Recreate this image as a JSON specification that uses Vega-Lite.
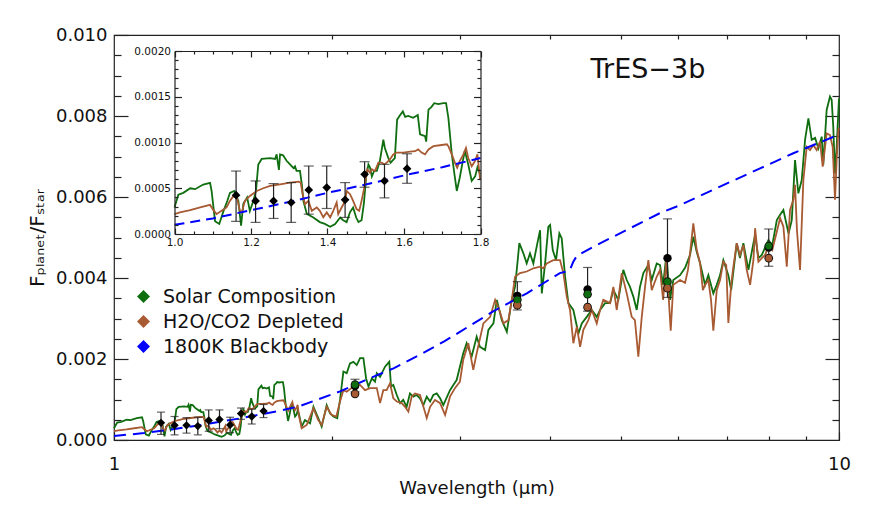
{
  "$schema": "https://vega.github.io/schema/vega-lite/v6.json",
  "width": 725,
  "height": 405,
  "autosize": "none",
  "padding": {"left": 114, "top": 35, "right": 33, "bottom": 73},
  "background": "white",
  "config": {
    "view": {"stroke": "#222", "strokeWidth": 1.2},
    "font": "DejaVu Sans",
    "axis": {"grid": false, "domain": false, "tickColor": "#222", "tickWidth": 1.2, "labelColor": "#111", "labelFont": "DejaVu Sans", "titleFont": "DejaVu Sans", "titleFontWeight": "normal", "titleColor": "#111", "labelFlush": false, "labelOverlap": false, "domainColor": "#222", "domainWidth": 1.2}
  },
  "datasets": {
    "solar": [
      {"wl":1.0,"f":0.00029},{"wl":1.01,"f":0.00043},{"wl":1.023,"f":0.00045},{"wl":1.041,"f":0.0005},{"wl":1.054,"f":0.00049},{"wl":1.075,"f":0.00054},{"wl":1.093,"f":0.00056},{"wl":1.097,"f":0.00047},{"wl":1.1,"f":0.00036},{"wl":1.106,"f":0.00014},{"wl":1.117,"f":0.00011},{"wl":1.128,"f":0.00025},{"wl":1.138,"f":0.00036},{"wl":1.145,"f":0.00045},{"wl":1.156,"f":0.00047},{"wl":1.163,"f":0.0004},{"wl":1.167,"f":0.00036},{"wl":1.174,"f":0.00009},{"wl":1.18,"f":0.00033},{"wl":1.19,"f":0.0004},{"wl":1.197,"f":0.00025},{"wl":1.206,"f":0.00036},{"wl":1.213,"f":0.00047},{"wl":1.219,"f":0.00076},{"wl":1.228,"f":0.00082},{"wl":1.25,"f":0.00083},{"wl":1.263,"f":0.00082},{"wl":1.267,"f":0.00087},{"wl":1.273,"f":0.0007},{"wl":1.276,"f":0.00087},{"wl":1.284,"f":0.00086},{"wl":1.293,"f":0.0008},{"wl":1.302,"f":0.00076},{"wl":1.311,"f":0.00072},{"wl":1.315,"f":0.00074},{"wl":1.319,"f":0.00069},{"wl":1.328,"f":0.00069},{"wl":1.333,"f":0.00054},{"wl":1.337,"f":0.00036},{"wl":1.346,"f":0.00022},{"wl":1.363,"f":0.00018},{"wl":1.38,"f":0.00013},{"wl":1.393,"f":0.00011},{"wl":1.407,"f":0.00008},{"wl":1.42,"f":0.00011},{"wl":1.433,"f":0.00018},{"wl":1.441,"f":0.00015},{"wl":1.45,"f":0.00013},{"wl":1.459,"f":0.00024},{"wl":1.467,"f":0.00029},{"wl":1.475,"f":0.00018},{"wl":1.481,"f":0.00013},{"wl":1.489,"f":0.00015},{"wl":1.495,"f":0.00033},{"wl":1.501,"f":0.00062},{"wl":1.507,"f":0.00076},{"wl":1.511,"f":0.00073},{"wl":1.516,"f":0.00063},{"wl":1.522,"f":0.00069},{"wl":1.529,"f":0.00069},{"wl":1.537,"f":0.0008},{"wl":1.546,"f":0.00103},{"wl":1.55,"f":0.00094},{"wl":1.559,"f":0.00083},{"wl":1.565,"f":0.00078},{"wl":1.576,"f":0.00083},{"wl":1.582,"f":0.00125},{"wl":1.59,"f":0.0013},{"wl":1.597,"f":0.00134},{"wl":1.603,"f":0.00128},{"wl":1.611,"f":0.00129},{"wl":1.624,"f":0.00127},{"wl":1.636,"f":0.0013},{"wl":1.642,"f":0.00109},{"wl":1.655,"f":0.00107},{"wl":1.658,"f":0.00101},{"wl":1.664,"f":0.00136},{"wl":1.672,"f":0.00139},{"wl":1.679,"f":0.00143},{"wl":1.69,"f":0.00142},{"wl":1.703,"f":0.00143},{"wl":1.71,"f":0.00143},{"wl":1.716,"f":0.00127},{"wl":1.725,"f":0.00087},{"wl":1.733,"f":0.00062},{"wl":1.738,"f":0.00047},{"wl":1.746,"f":0.00062},{"wl":1.753,"f":0.00078},{"wl":1.759,"f":0.00091},{"wl":1.768,"f":0.00076},{"wl":1.777,"f":0.00058},{"wl":1.786,"f":0.00063},{"wl":1.792,"f":0.00073},{"wl":1.799,"f":0.00065},
      {"wl":1.815,"f":0.00033},{"wl":1.834,"f":0.00049},{"wl":1.864,"f":0.00041},{"wl":1.884,"f":0.00082},{"wl":1.913,"f":0.00054},{"wl":1.934,"f":0.00033},{"wl":1.965,"f":0.00086},{"wl":1.986,"f":0.00066},{"wl":2.007,"f":0.00058},{"wl":2.032,"f":0.00054},{"wl":2.05,"f":0.00099},{"wl":2.072,"f":0.00169},{"wl":2.094,"f":0.00165},{"wl":2.116,"f":0.00189},{"wl":2.139,"f":0.00193},{"wl":2.162,"f":0.00185},{"wl":2.185,"f":0.00202},{"wl":2.208,"f":0.00202},{"wl":2.227,"f":0.00152},{"wl":2.244,"f":0.00132},{"wl":2.268,"f":0.00152},{"wl":2.291,"f":0.00144},{"wl":2.304,"f":0.00165},{"wl":2.328,"f":0.00156},{"wl":2.365,"f":0.00181},{"wl":2.397,"f":0.00193},{"wl":2.411,"f":0.00132},{"wl":2.428,"f":0.00136},{"wl":2.455,"f":0.00111},{"wl":2.481,"f":0.00091},{"wl":2.506,"f":0.00099},{"wl":2.533,"f":0.00082},{"wl":2.56,"f":0.00115},{"wl":2.587,"f":0.00107},{"wl":2.615,"f":0.00111},{"wl":2.643,"f":0.00103},{"wl":2.671,"f":0.00086},{"wl":2.7,"f":0.00107},{"wl":2.729,"f":0.00095},{"wl":2.757,"f":0.00111},{"wl":2.787,"f":0.00115},{"wl":2.817,"f":0.00103},{"wl":2.846,"f":0.00086},{"wl":2.907,"f":0.00123},{"wl":2.938,"f":0.00136},{"wl":2.969,"f":0.00148},{"wl":3.0,"f":0.00181},{"wl":3.032,"f":0.00214},{"wl":3.065,"f":0.00239},{"wl":3.114,"f":0.00206},{"wl":3.164,"f":0.00255},{"wl":3.197,"f":0.0023},{"wl":3.25,"f":0.00222},{"wl":3.284,"f":0.00272},{"wl":3.337,"f":0.00288},{"wl":3.373,"f":0.00346},{"wl":3.427,"f":0.00296},{"wl":3.482,"f":0.00267},{"wl":3.537,"f":0.00346},{"wl":3.574,"f":0.00378},{"wl":3.601,"f":0.00436},{"wl":3.623,"f":0.00486},{"wl":3.67,"f":0.00461},{"wl":3.709,"f":0.00436},{"wl":3.748,"f":0.00461},{"wl":3.788,"f":0.00436},{"wl":3.837,"f":0.00486},{"wl":3.87,"f":0.00518},{"wl":3.891,"f":0.00362},{"wl":3.932,"f":0.00436},{"wl":3.973,"f":0.00527},{"wl":3.995,"f":0.00531},{"wl":4.029,"f":0.00469},{"wl":4.071,"f":0.00444},{"wl":4.114,"f":0.0051},{"wl":4.145,"f":0.00498},{"wl":4.19,"f":0.00403},{"wl":4.234,"f":0.00338},{"wl":4.301,"f":0.00321},{"wl":4.371,"f":0.00263},{"wl":4.418,"f":0.00288},{"wl":4.488,"f":0.00304},{"wl":4.56,"f":0.00321},{"wl":4.633,"f":0.00304},{"wl":4.682,"f":0.00321},{"wl":4.757,"f":0.00338},{"wl":4.833,"f":0.00338},{"wl":4.884,"f":0.0037},{"wl":4.962,"f":0.00346},{"wl":5.041,"f":0.0042},{"wl":5.096,"f":0.00395},{"wl":5.149,"f":0.00378},{"wl":5.204,"f":0.00354},{"wl":5.26,"f":0.00321},{"wl":5.315,"f":0.00378},{"wl":5.372,"f":0.00412},{"wl":5.458,"f":0.00432},{"wl":5.517,"f":0.00395},{"wl":5.605,"f":0.00436},
      {"wl":5.664,"f":0.00432},{"wl":5.72,"f":0.00383},{"wl":5.78,"f":0.00457},{"wl":5.847,"f":0.00346},{"wl":5.908,"f":0.00395},{"wl":6.036,"f":0.00407},{"wl":6.133,"f":0.00425},{"wl":6.231,"f":0.00457},{"wl":6.296,"f":0.00502},{"wl":6.365,"f":0.00464},{"wl":6.432,"f":0.00437},{"wl":6.535,"f":0.00383},{"wl":6.604,"f":0.00407},{"wl":6.709,"f":0.00362},{"wl":6.782,"f":0.00383},{"wl":6.854,"f":0.00407},{"wl":6.926,"f":0.00444},{"wl":7.037,"f":0.00407},{"wl":7.1,"f":0.0037},{"wl":7.227,"f":0.00486},{"wl":7.3,"f":0.00449},{"wl":7.381,"f":0.00486},{"wl":7.5,"f":0.0042},{"wl":7.62,"f":0.00486},{"wl":7.661,"f":0.00506},{"wl":7.742,"f":0.00449},{"wl":7.826,"f":0.00457},{"wl":7.992,"f":0.00494},{"wl":8.09,"f":0.00481},{"wl":8.208,"f":0.00543},{"wl":8.294,"f":0.00556},{"wl":8.381,"f":0.00568},{"wl":8.52,"f":0.0051},{"wl":8.607,"f":0.00543},{"wl":8.697,"f":0.00691},{"wl":8.789,"f":0.00609},{"wl":8.884,"f":0.00642},{"wl":8.978,"f":0.00741},{"wl":9.074,"f":0.00794},{"wl":9.169,"f":0.00741},{"wl":9.27,"f":0.00746},{"wl":9.365,"f":0.0072},{"wl":9.466,"f":0.00749},{"wl":9.513,"f":0.00679},{"wl":9.616,"f":0.00815},{"wl":9.718,"f":0.00848},{"wl":9.77,"f":0.0084},{"wl":9.819,"f":0.00774},{"wl":9.874,"f":0.00658},{"wl":9.926,"f":0.00724},{"wl":9.977,"f":0.00807},{"wl":10.0,"f":0.00844}
    ],
    "depleted": [
      {"wl":1.0,"f":0.000217},{"wl":1.014,"f":0.000236},{"wl":1.041,"f":0.00026},{"wl":1.067,"f":0.00029},{"wl":1.093,"f":0.000318},{"wl":1.1,"f":0.000272},{"wl":1.11,"f":0.000217},{"wl":1.123,"f":0.000253},{"wl":1.136,"f":0.00029},{"wl":1.145,"f":0.000362},{"wl":1.154,"f":0.000416},{"wl":1.163,"f":0.0004},{"wl":1.171,"f":0.000253},{"wl":1.176,"f":0.000236},{"wl":1.184,"f":0.000362},{"wl":1.197,"f":0.000416},{"wl":1.215,"f":0.00047},{"wl":1.232,"f":0.0005},{"wl":1.25,"f":0.000525},{"wl":1.276,"f":0.000543},{"wl":1.302,"f":0.000562},{"wl":1.324,"f":0.000573},{"wl":1.33,"f":0.000562},{"wl":1.335,"f":0.000435},{"wl":1.341,"f":0.000326},{"wl":1.35,"f":0.000362},{"wl":1.359,"f":0.000253},{"wl":1.372,"f":0.00029},{"wl":1.38,"f":0.000253},{"wl":1.389,"f":0.000182},{"wl":1.398,"f":0.000236},{"wl":1.407,"f":0.000182},{"wl":1.415,"f":0.000253},{"wl":1.424,"f":0.000345},{"wl":1.428,"f":0.000217},{"wl":1.437,"f":0.00029},{"wl":1.446,"f":0.000362},{"wl":1.45,"f":0.00047},{"wl":1.459,"f":0.000435},{"wl":1.467,"f":0.000362},{"wl":1.476,"f":0.000272},{"wl":1.483,"f":0.000253},{"wl":1.489,"f":0.000362},{"wl":1.498,"f":0.000543},{"wl":1.504,"f":0.000707},{"wl":1.511,"f":0.00067},{"wl":1.516,"f":0.000707},{"wl":1.524,"f":0.000688},{"wl":1.533,"f":0.00078},{"wl":1.542,"f":0.00078},{"wl":1.548,"f":0.00076},{"wl":1.555,"f":0.00078},{"wl":1.563,"f":0.000815},{"wl":1.572,"f":0.00087},{"wl":1.581,"f":0.00089},{"wl":1.598,"f":0.00089},{"wl":1.616,"f":0.0009},{"wl":1.629,"f":0.000905},{"wl":1.637,"f":0.000924},{"wl":1.646,"f":0.00089},{"wl":1.655,"f":0.00087},{"wl":1.664,"f":0.000924},{"wl":1.677,"f":0.00096},{"wl":1.694,"f":0.00097},{"wl":1.712,"f":0.00098},{"wl":1.716,"f":0.00096},{"wl":1.725,"f":0.00087},{"wl":1.733,"f":0.00078},{"wl":1.739,"f":0.000725},{"wl":1.746,"f":0.0008},{"wl":1.753,"f":0.00085},{"wl":1.762,"f":0.00094},{"wl":1.768,"f":0.00083},{"wl":1.777,"f":0.00074},{"wl":1.786,"f":0.0008},{"wl":1.792,"f":0.00087},{"wl":1.799,"f":0.0006},
      {"wl":1.815,"f":0.00029},{"wl":1.844,"f":0.00037},{"wl":1.884,"f":0.00078},{"wl":1.913,"f":0.00049},{"wl":1.934,"f":0.00037},{"wl":1.965,"f":0.00082},{"wl":1.996,"f":0.00062},{"wl":2.026,"f":0.00058},{"wl":2.05,"f":0.00095},{"wl":2.072,"f":0.00123},{"wl":2.094,"f":0.00119},{"wl":2.139,"f":0.00132},{"wl":2.185,"f":0.00136},{"wl":2.219,"f":0.00123},{"wl":2.256,"f":0.00128},{"wl":2.304,"f":0.00128},{"wl":2.328,"f":0.00091},{"wl":2.352,"f":0.00123},{"wl":2.377,"f":0.00123},{"wl":2.403,"f":0.0014},{"wl":2.428,"f":0.00103},{"wl":2.455,"f":0.00095},{"wl":2.494,"f":0.00091},{"wl":2.52,"f":0.00082},{"wl":2.547,"f":0.0007},{"wl":2.574,"f":0.00107},{"wl":2.601,"f":0.00115},{"wl":2.643,"f":0.00111},{"wl":2.7,"f":0.00054},{"wl":2.729,"f":0.00082},{"wl":2.772,"f":0.00099},{"wl":2.817,"f":0.00091},{"wl":2.862,"f":0.00062},{"wl":2.907,"f":0.00107},{"wl":2.953,"f":0.00128},{"wl":3.0,"f":0.00144},{"wl":3.032,"f":0.00198},{"wl":3.081,"f":0.00239},{"wl":3.13,"f":0.00173},{"wl":3.164,"f":0.00214},{"wl":3.232,"f":0.00288},{"wl":3.302,"f":0.00304},{"wl":3.355,"f":0.00346},{"wl":3.4,"f":0.00321},{"wl":3.444,"f":0.00288},{"wl":3.5,"f":0.00296},{"wl":3.537,"f":0.00346},{"wl":3.574,"f":0.00403},{"wl":3.631,"f":0.00412},{"wl":3.709,"f":0.00416},{"wl":3.788,"f":0.00424},{"wl":3.87,"f":0.00428},{"wl":3.911,"f":0.00424},{"wl":3.953,"f":0.00436},{"wl":4.036,"f":0.00444},{"wl":4.123,"f":0.00444},{"wl":4.167,"f":0.00412},{"wl":4.212,"f":0.00354},{"wl":4.256,"f":0.00321},{"wl":4.301,"f":0.00239},{"wl":4.349,"f":0.0028},{"wl":4.395,"f":0.0023},{"wl":4.44,"f":0.00272},{"wl":4.511,"f":0.00296},{"wl":4.56,"f":0.00321},{"wl":4.633,"f":0.00288},{"wl":4.682,"f":0.00321},{"wl":4.731,"f":0.00346},{"wl":4.833,"f":0.00338},{"wl":4.884,"f":0.00378},{"wl":4.937,"f":0.00321},{"wl":5.016,"f":0.00412},{"wl":5.096,"f":0.00362},{"wl":5.177,"f":0.00304},{"wl":5.23,"f":0.00296},{"wl":5.287,"f":0.00206},{"wl":5.345,"f":0.00304},{"wl":5.401,"f":0.00378},{"wl":5.458,"f":0.00444},{"wl":5.517,"f":0.0037},{"wl":5.605,"f":0.00403},
      {"wl":5.664,"f":0.0042},{"wl":5.72,"f":0.00346},{"wl":5.78,"f":0.00444},{"wl":5.86,"f":0.0027},{"wl":5.908,"f":0.00383},{"wl":6.036,"f":0.00395},{"wl":6.133,"f":0.00388},{"wl":6.19,"f":0.0042},{"wl":6.231,"f":0.00462},{"wl":6.296,"f":0.00535},{"wl":6.365,"f":0.00469},{"wl":6.432,"f":0.00437},{"wl":6.49,"f":0.0037},{"wl":6.535,"f":0.00383},{"wl":6.604,"f":0.00395},{"wl":6.66,"f":0.00346},{"wl":6.709,"f":0.0027},{"wl":6.782,"f":0.0037},{"wl":6.854,"f":0.00395},{"wl":6.926,"f":0.0044},{"wl":6.99,"f":0.00432},{"wl":7.037,"f":0.00289},{"wl":7.1,"f":0.00383},{"wl":7.14,"f":0.0042},{"wl":7.227,"f":0.00486},{"wl":7.3,"f":0.00457},{"wl":7.381,"f":0.00481},{"wl":7.46,"f":0.0042},{"wl":7.54,"f":0.00383},{"wl":7.62,"f":0.00444},{"wl":7.661,"f":0.00523},{"wl":7.742,"f":0.0044},{"wl":7.826,"f":0.00449},{"wl":7.91,"f":0.00457},{"wl":7.992,"f":0.00481},{"wl":8.09,"f":0.00469},{"wl":8.208,"f":0.00514},{"wl":8.294,"f":0.00548},{"wl":8.381,"f":0.00527},{"wl":8.472,"f":0.00428},{"wl":8.56,"f":0.00568},{"wl":8.65,"f":0.00593},{"wl":8.697,"f":0.0063},{"wl":8.75,"f":0.00518},{"wl":8.836,"f":0.0042},{"wl":8.93,"f":0.00642},{"wl":9.026,"f":0.00724},{"wl":9.12,"f":0.00716},{"wl":9.218,"f":0.00728},{"wl":9.316,"f":0.00716},{"wl":9.414,"f":0.00737},{"wl":9.496,"f":0.00675},{"wl":9.616,"f":0.00757},{"wl":9.718,"f":0.00753},{"wl":9.801,"f":0.00724},{"wl":9.874,"f":0.00593},{"wl":9.926,"f":0.00691},{"wl":9.977,"f":0.00765},{"wl":10.0,"f":0.0077}
    ],
    "bb": [
      {"wl":1.0,"f":0.0001},{"wl":1.1,"f":0.00017},{"wl":1.2,"f":0.00026},{"wl":1.3,"f":0.00035},{"wl":1.4,"f":0.00045},{"wl":1.5,"f":0.00054},{"wl":1.6,"f":0.00064},{"wl":1.7,"f":0.00073},{"wl":1.8,"f":0.00083},{"wl":2.05,"f":0.0012},{"wl":2.25,"f":0.00152},{"wl":2.43,"f":0.00177},{"wl":2.64,"f":0.0021},{"wl":2.85,"f":0.00243},{"wl":3.0,"f":0.00267},{"wl":3.33,"f":0.00317},{"wl":3.71,"f":0.00362},{"wl":4.12,"f":0.00412},{"wl":4.25,"f":0.00418},{"wl":4.3,"f":0.0044},{"wl":4.35,"f":0.00455},{"wl":4.58,"f":0.00477},{"wl":5.1,"f":0.00519},{"wl":5.66,"f":0.0056},{"wl":6.04,"f":0.0058},{"wl":6.84,"f":0.00625},{"wl":7.77,"f":0.0067},{"wl":8.65,"f":0.00708},{"wl":9.84,"f":0.00749},{"wl":10.0,"f":0.00755}
    ],
    "obs": [
      {"wl":1.161,"f":0.000424,"lo":0.000138,"hi":0.000688},{"wl":1.212,"f":0.000362,"lo":0.000127,"hi":0.00058},{"wl":1.259,"f":0.000362,"lo":0.00017,"hi":0.000551},{"wl":1.305,"f":0.000344,"lo":0.000127,"hi":0.000562},{"wl":1.351,"f":0.000482,"lo":0.000217,"hi":0.000743},{"wl":1.398,"f":0.000507,"lo":0.000279,"hi":0.000743},{"wl":1.446,"f":0.000373,"lo":0.000181,"hi":0.000562},{"wl":1.497,"f":0.000652,"lo":0.000511,"hi":0.00079},{"wl":1.549,"f":0.00058,"lo":0.000395,"hi":0.000761},{"wl":1.608,"f":0.000714,"lo":0.000554,"hi":0.000877}
    ],
    "spitzer": [
      {"wl":2.15,"f":0.00133,"lo":0.00119,"hi":0.0015},{"wl":3.6,"f":0.00356,"lo":0.00321,"hi":0.00391},{"wl":4.5,"f":0.00372,"lo":0.00318,"hi":0.00426},{"wl":5.8,"f":0.00449,"lo":0.00352,"hi":0.00546},{"wl":8.0,"f":0.00475,"lo":0.00429,"hi":0.00521}
    ],
    "bands": [
      {"wl":2.15,"model":"H2O/CO2 Depleted","f":0.00114},{"wl":2.15,"model":"Solar Composition","f":0.00137},{"wl":3.6,"model":"H2O/CO2 Depleted","f":0.00333},{"wl":3.6,"model":"Solar Composition","f":0.00346},{"wl":4.5,"model":"H2O/CO2 Depleted","f":0.00328},{"wl":4.5,"model":"Solar Composition","f":0.0036},{"wl":5.8,"model":"H2O/CO2 Depleted","f":0.00375},{"wl":5.8,"model":"Solar Composition","f":0.00391},{"wl":8.0,"model":"H2O/CO2 Depleted","f":0.00449},{"wl":8.0,"model":"Solar Composition","f":0.00479}
    ]
  },
  "resolve": {"scale": {"x": "independent", "y": "independent"}},
  "layer": [
    {
      "layer": [
        {"data": {"name": "solar"}, "mark": {"type": "line", "color": "#0f6e0f", "strokeWidth": 1.8},
         "encoding": {
           "x": {"field": "wl", "type": "quantitative", "scale": {"type": "log", "domain": [1, 10], "nice": false},
                 "axis": {"orient": "bottom", "values": [1, 10], "format": "d", "tickSize": -8, "labelPadding": 23, "labelFontSize": 18, "title": "Wavelength (μm)", "titleFontSize": 18, "titlePadding": 6}},
           "y": {"field": "f", "type": "quantitative", "scale": {"domain": [0, 0.01], "nice": false, "zero": false},
                 "axis": {"orient": "left", "values": [0, 0.002, 0.004, 0.006, 0.008, 0.01], "format": ".3f", "tickSize": -14, "labelPadding": 21, "labelFontSize": 18, "title": "Fₚₗₐₙₑₜ/Fₛₜₐᵣ", "titleFontSize": 20, "titlePadding": 8}}}},
        {"data": {"name": "depleted"}, "mark": {"type": "line", "color": "#a85a32", "strokeWidth": 1.8},
         "encoding": {
           "x": {"field": "wl", "type": "quantitative", "scale": {"type": "log", "domain": [1, 10], "nice": false},
                 "axis": {"orient": "bottom", "values": [1, 10], "format": "d", "tickSize": -8, "labelPadding": 23, "labelFontSize": 18, "title": "Wavelength (μm)", "titleFontSize": 18, "titlePadding": 6}},
           "y": {"field": "f", "type": "quantitative", "scale": {"domain": [0, 0.01], "nice": false, "zero": false},
                 "axis": {"orient": "left", "values": [0, 0.002, 0.004, 0.006, 0.008, 0.01], "format": ".3f", "tickSize": -14, "labelPadding": 21, "labelFontSize": 18, "title": "Fₚₗₐₙₑₜ/Fₛₜₐᵣ", "titleFontSize": 20, "titlePadding": 8}}}},
        {"data": {"name": "bb"}, "mark": {"type": "line", "color": "#0000ff", "strokeWidth": 2, "strokeDash": [12, 7]},
         "encoding": {
           "x": {"field": "wl", "type": "quantitative", "scale": {"type": "log", "domain": [1, 10], "nice": false},
                 "axis": {"orient": "bottom", "values": [1, 10], "format": "d", "tickSize": -8, "labelPadding": 23, "labelFontSize": 18, "title": "Wavelength (μm)", "titleFontSize": 18, "titlePadding": 6}},
           "y": {"field": "f", "type": "quantitative", "scale": {"domain": [0, 0.01], "nice": false, "zero": false},
                 "axis": {"orient": "left", "values": [0, 0.002, 0.004, 0.006, 0.008, 0.01], "format": ".3f", "tickSize": -14, "labelPadding": 21, "labelFontSize": 18, "title": "Fₚₗₐₙₑₜ/Fₛₜₐᵣ", "titleFontSize": 20, "titlePadding": 8}}}}
      ]
    },
    {
      "layer": [
        {"data": {"name": "obs"}, "mark": {"type": "rule", "color": "#222", "strokeWidth": 1.2},
         "encoding": {
           "x": {"field": "wl", "type": "quantitative", "scale": {"type": "log", "domain": [1, 10], "nice": false},
                 "axis": {"orient": "bottom", "values": [2, 3, 4, 5, 6, 7, 8, 9], "tickSize": -4, "labels": false, "title": null}},
           "y": {"field": "lo", "type": "quantitative", "scale": {"domain": [0, 0.01], "nice": false, "zero": false},
                 "axis": {"orient": "left", "values": [0.0005, 0.001, 0.0015, 0.0025, 0.003, 0.0035, 0.0045, 0.005, 0.0055, 0.0065, 0.007, 0.0075, 0.0085, 0.009, 0.0095], "tickSize": -7, "labels": false, "title": null}},
           "y2": {"field": "hi"}}},
        {"data": {"name": "obs"}, "mark": {"type": "tick", "orient": "horizontal", "color": "#222", "size": 8, "thickness": 1.2},
         "encoding": {
           "x": {"field": "wl", "type": "quantitative", "scale": {"type": "log", "domain": [1, 10], "nice": false},
                 "axis": {"orient": "bottom", "values": [2, 3, 4, 5, 6, 7, 8, 9], "tickSize": -4, "labels": false, "title": null}},
           "y": {"field": "lo", "type": "quantitative", "scale": {"domain": [0, 0.01], "nice": false, "zero": false},
                 "axis": {"orient": "left", "values": [0.0005, 0.001, 0.0015, 0.0025, 0.003, 0.0035, 0.0045, 0.005, 0.0055, 0.0065, 0.007, 0.0075, 0.0085, 0.009, 0.0095], "tickSize": -7, "labels": false, "title": null}}}},
        {"data": {"name": "obs"}, "mark": {"type": "tick", "orient": "horizontal", "color": "#222", "size": 8, "thickness": 1.2},
         "encoding": {
           "x": {"field": "wl", "type": "quantitative", "scale": {"type": "log", "domain": [1, 10], "nice": false},
                 "axis": {"orient": "bottom", "values": [2, 3, 4, 5, 6, 7, 8, 9], "tickSize": -4, "labels": false, "title": null}},
           "y": {"field": "hi", "type": "quantitative", "scale": {"domain": [0, 0.01], "nice": false, "zero": false},
                 "axis": {"orient": "left", "values": [0.0005, 0.001, 0.0015, 0.0025, 0.003, 0.0035, 0.0045, 0.005, 0.0055, 0.0065, 0.007, 0.0075, 0.0085, 0.009, 0.0095], "tickSize": -7, "labels": false, "title": null}}}},
        {"data": {"name": "obs"}, "mark": {"type": "point", "shape": "diamond", "filled": true, "color": "#000", "size": 70, "opacity": 1},
         "encoding": {
           "x": {"field": "wl", "type": "quantitative", "scale": {"type": "log", "domain": [1, 10], "nice": false},
                 "axis": {"orient": "bottom", "values": [2, 3, 4, 5, 6, 7, 8, 9], "tickSize": -4, "labels": false, "title": null}},
           "y": {"field": "f", "type": "quantitative", "scale": {"domain": [0, 0.01], "nice": false, "zero": false},
                 "axis": {"orient": "left", "values": [0.0005, 0.001, 0.0015, 0.0025, 0.003, 0.0035, 0.0045, 0.005, 0.0055, 0.0065, 0.007, 0.0075, 0.0085, 0.009, 0.0095], "tickSize": -7, "labels": false, "title": null}}}},
        {"data": {"name": "spitzer"}, "mark": {"type": "rule", "color": "#222", "strokeWidth": 1.2},
         "encoding": {
           "x": {"field": "wl", "type": "quantitative", "scale": {"type": "log", "domain": [1, 10], "nice": false},
                 "axis": {"orient": "bottom", "values": [2, 3, 4, 5, 6, 7, 8, 9], "tickSize": -4, "labels": false, "title": null}},
           "y": {"field": "lo", "type": "quantitative", "scale": {"domain": [0, 0.01], "nice": false, "zero": false},
                 "axis": {"orient": "left", "values": [0.0005, 0.001, 0.0015, 0.0025, 0.003, 0.0035, 0.0045, 0.005, 0.0055, 0.0065, 0.007, 0.0075, 0.0085, 0.009, 0.0095], "tickSize": -7, "labels": false, "title": null}},
           "y2": {"field": "hi"}}},
        {"data": {"name": "spitzer"}, "mark": {"type": "tick", "orient": "horizontal", "color": "#222", "size": 9, "thickness": 1.2},
         "encoding": {
           "x": {"field": "wl", "type": "quantitative", "scale": {"type": "log", "domain": [1, 10], "nice": false},
                 "axis": {"orient": "bottom", "values": [2, 3, 4, 5, 6, 7, 8, 9], "tickSize": -4, "labels": false, "title": null}},
           "y": {"field": "lo", "type": "quantitative", "scale": {"domain": [0, 0.01], "nice": false, "zero": false},
                 "axis": {"orient": "left", "values": [0.0005, 0.001, 0.0015, 0.0025, 0.003, 0.0035, 0.0045, 0.005, 0.0055, 0.0065, 0.007, 0.0075, 0.0085, 0.009, 0.0095], "tickSize": -7, "labels": false, "title": null}}}},
        {"data": {"name": "spitzer"}, "mark": {"type": "tick", "orient": "horizontal", "color": "#222", "size": 9, "thickness": 1.2},
         "encoding": {
           "x": {"field": "wl", "type": "quantitative", "scale": {"type": "log", "domain": [1, 10], "nice": false},
                 "axis": {"orient": "bottom", "values": [2, 3, 4, 5, 6, 7, 8, 9], "tickSize": -4, "labels": false, "title": null}},
           "y": {"field": "hi", "type": "quantitative", "scale": {"domain": [0, 0.01], "nice": false, "zero": false},
                 "axis": {"orient": "left", "values": [0.0005, 0.001, 0.0015, 0.0025, 0.003, 0.0035, 0.0045, 0.005, 0.0055, 0.0065, 0.007, 0.0075, 0.0085, 0.009, 0.0095], "tickSize": -7, "labels": false, "title": null}}}},
        {"data": {"name": "spitzer"}, "mark": {"type": "point", "shape": "circle", "filled": true, "color": "#000", "size": 70, "opacity": 1},
         "encoding": {
           "x": {"field": "wl", "type": "quantitative", "scale": {"type": "log", "domain": [1, 10], "nice": false},
                 "axis": {"orient": "bottom", "values": [2, 3, 4, 5, 6, 7, 8, 9], "tickSize": -4, "labels": false, "title": null}},
           "y": {"field": "f", "type": "quantitative", "scale": {"domain": [0, 0.01], "nice": false, "zero": false},
                 "axis": {"orient": "left", "values": [0.0005, 0.001, 0.0015, 0.0025, 0.003, 0.0035, 0.0045, 0.005, 0.0055, 0.0065, 0.007, 0.0075, 0.0085, 0.009, 0.0095], "tickSize": -7, "labels": false, "title": null}}}}
      ]
    },
    {
      "data": {"name": "bands"},
      "layer": [
        {"mark": {"type": "point", "shape": "circle", "filled": true, "color": "#111", "size": 75, "opacity": 1},
         "encoding": {
           "x": {"field": "wl", "type": "quantitative", "scale": {"type": "log", "domain": [1, 10], "nice": false},
                 "axis": {"orient": "top", "values": [2, 3, 4, 5, 6, 7, 8, 9], "tickSize": -4, "labels": false, "title": null}},
           "y": {"field": "f", "type": "quantitative", "scale": {"domain": [0, 0.01], "nice": false, "zero": false},
                 "axis": {"orient": "right", "values": [0.002, 0.004, 0.006, 0.008], "tickSize": -14, "labels": false, "title": null}}}},
        {"mark": {"type": "point", "shape": "circle", "filled": true, "size": 45, "opacity": 1},
         "encoding": {
           "x": {"field": "wl", "type": "quantitative", "scale": {"type": "log", "domain": [1, 10], "nice": false},
                 "axis": {"orient": "top", "values": [2, 3, 4, 5, 6, 7, 8, 9], "tickSize": -4, "labels": false, "title": null}},
           "y": {"field": "f", "type": "quantitative", "scale": {"domain": [0, 0.01], "nice": false, "zero": false},
                 "axis": {"orient": "right", "values": [0.002, 0.004, 0.006, 0.008], "tickSize": -14, "labels": false, "title": null}},
           "color": {"field": "model", "type": "nominal",
                     "scale": {"domain": ["Solar Composition", "H2O/CO2 Depleted", "1800K Blackbody"], "range": ["#0f6e0f", "#a85a32", "#0000ff"]},
                     "legend": {"orient": "none", "legendX": 20, "legendY": 252, "title": null, "symbolType": "diamond", "symbolSize": 169, "symbolStrokeWidth": 0, "labelFontSize": 19, "labelFont": "DejaVu Sans", "labelColor": "#111", "labelLimit": 0, "rowPadding": 5, "labelOffset": 10, "padding": 0}}}}
      ]
    },
    {
      "data": {"values": [{"label": "TrES−3b"}]},
      "mark": {"type": "text", "fontSize": 27, "font": "DejaVu Sans", "color": "#111", "align": "center", "baseline": "middle"},
      "encoding": {
        "text": {"field": "label"},
        "x": {"datum": 5.45, "type": "quantitative", "scale": {"type": "log", "domain": [1, 10], "nice": false}, "axis": null},
        "y": {"datum": 0.00914, "type": "quantitative", "scale": {"domain": [0, 0.01], "nice": false, "zero": false},
              "axis": {"orient": "right", "values": [0.0005, 0.001, 0.0015, 0.0025, 0.003, 0.0035, 0.0045, 0.005, 0.0055, 0.0065, 0.007, 0.0075, 0.0085, 0.009, 0.0095], "tickSize": -7, "labels": false, "title": null}}
      }
    },
    {
      "data": {"values": [{"a": 1}]},
      "mark": {"type": "rect", "fill": "white", "strokeWidth": 0},
      "encoding": {
        "x": {"datum": 1, "type": "quantitative", "scale": {"domain": [1, 1.8], "range": [60.5, 366.5], "nice": false, "zero": false},
              "axis": {"orient": "bottom", "offset": -206, "values": [1, 1.2, 1.4, 1.6, 1.8], "format": ".1f", "tickSize": -6, "labelPadding": 9, "labelFontSize": 10.5, "domain": true, "title": null, "zindex": 1}},
        "x2": {"datum": 1.8},
        "y": {"datum": 0, "type": "quantitative", "scale": {"domain": [0, 0.002], "range": [199, 16], "nice": false, "zero": false},
              "axis": {"orient": "left", "offset": -60.5, "values": [0, 0.0005, 0.001, 0.0015, 0.002], "format": ".4f", "tickSize": -7, "labelPadding": 11, "labelFontSize": 10.5, "domain": true, "title": null, "zindex": 1}},
        "y2": {"datum": 0.002}
      }
    },
    {
      "layer": [
        {"data": {"name": "solar"}, "transform": [{"filter": "datum.wl <= 1.8"}], "mark": {"type": "line", "color": "#0f6e0f", "strokeWidth": 1.8},
         "encoding": {
           "x": {"field": "wl", "type": "quantitative", "scale": {"domain": [1, 1.8], "range": [60.5, 366.5], "nice": false, "zero": false},
                 "axis": {"orient": "bottom", "offset": -206, "values": [1.05, 1.1, 1.15, 1.25, 1.3, 1.35, 1.45, 1.5, 1.55, 1.65, 1.7, 1.75], "tickSize": -3, "labels": false, "title": null, "zindex": 1}},
           "y": {"field": "f", "type": "quantitative", "scale": {"domain": [0, 0.002], "range": [199, 16], "nice": false, "zero": false},
                 "axis": {"orient": "left", "offset": -60.5, "values": [0.0001, 0.0002, 0.0003, 0.0004, 0.0006, 0.0007, 0.0008, 0.0009, 0.0011, 0.0012, 0.0013, 0.0014, 0.0016, 0.0017, 0.0018, 0.0019], "tickSize": -3.5, "labels": false, "title": null, "zindex": 1}}}},
        {"data": {"name": "depleted"}, "transform": [{"filter": "datum.wl <= 1.8"}], "mark": {"type": "line", "color": "#a85a32", "strokeWidth": 1.8},
         "encoding": {
           "x": {"field": "wl", "type": "quantitative", "scale": {"domain": [1, 1.8], "range": [60.5, 366.5], "nice": false, "zero": false},
                 "axis": {"orient": "bottom", "offset": -206, "values": [1.05, 1.1, 1.15, 1.25, 1.3, 1.35, 1.45, 1.5, 1.55, 1.65, 1.7, 1.75], "tickSize": -3, "labels": false, "title": null, "zindex": 1}},
           "y": {"field": "f", "type": "quantitative", "scale": {"domain": [0, 0.002], "range": [199, 16], "nice": false, "zero": false},
                 "axis": {"orient": "left", "offset": -60.5, "values": [0.0001, 0.0002, 0.0003, 0.0004, 0.0006, 0.0007, 0.0008, 0.0009, 0.0011, 0.0012, 0.0013, 0.0014, 0.0016, 0.0017, 0.0018, 0.0019], "tickSize": -3.5, "labels": false, "title": null, "zindex": 1}}}},
        {"data": {"name": "bb"}, "transform": [{"filter": "datum.wl <= 1.8"}], "mark": {"type": "line", "color": "#0000ff", "strokeWidth": 2, "strokeDash": [10, 6]},
         "encoding": {
           "x": {"field": "wl", "type": "quantitative", "scale": {"domain": [1, 1.8], "range": [60.5, 366.5], "nice": false, "zero": false},
                 "axis": {"orient": "bottom", "offset": -206, "values": [1.05, 1.1, 1.15, 1.25, 1.3, 1.35, 1.45, 1.5, 1.55, 1.65, 1.7, 1.75], "tickSize": -3, "labels": false, "title": null, "zindex": 1}},
           "y": {"field": "f", "type": "quantitative", "scale": {"domain": [0, 0.002], "range": [199, 16], "nice": false, "zero": false},
                 "axis": {"orient": "left", "offset": -60.5, "values": [0.0001, 0.0002, 0.0003, 0.0004, 0.0006, 0.0007, 0.0008, 0.0009, 0.0011, 0.0012, 0.0013, 0.0014, 0.0016, 0.0017, 0.0018, 0.0019], "tickSize": -3.5, "labels": false, "title": null, "zindex": 1}}}}
      ]
    },
    {
      "data": {"name": "obs"},
      "layer": [
        {"mark": {"type": "rule", "color": "#222", "strokeWidth": 1.2},
         "encoding": {
           "x": {"field": "wl", "type": "quantitative", "scale": {"domain": [1, 1.8], "range": [60.5, 366.5], "nice": false, "zero": false},
                 "axis": {"orient": "top", "offset": -16, "values": [1, 1.2, 1.4, 1.6, 1.8], "tickSize": -6, "labels": false, "domain": true, "title": null, "zindex": 1}},
           "y": {"field": "lo", "type": "quantitative", "scale": {"domain": [0, 0.002], "range": [199, 16], "nice": false, "zero": false},
                 "axis": {"orient": "right", "offset": -358.5, "values": [0, 0.0005, 0.001, 0.0015, 0.002], "tickSize": -7, "labels": false, "domain": true, "title": null, "zindex": 1}},
           "y2": {"field": "hi"}}},
        {"mark": {"type": "point", "shape": "diamond", "filled": true, "color": "#000", "size": 75, "opacity": 1},
         "encoding": {
           "x": {"field": "wl", "type": "quantitative", "scale": {"domain": [1, 1.8], "range": [60.5, 366.5], "nice": false, "zero": false},
                 "axis": {"orient": "top", "offset": -16, "values": [1, 1.2, 1.4, 1.6, 1.8], "tickSize": -6, "labels": false, "domain": true, "title": null, "zindex": 1}},
           "y": {"field": "f", "type": "quantitative", "scale": {"domain": [0, 0.002], "range": [199, 16], "nice": false, "zero": false},
                 "axis": {"orient": "right", "offset": -358.5, "values": [0, 0.0005, 0.001, 0.0015, 0.002], "tickSize": -7, "labels": false, "domain": true, "title": null, "zindex": 1}}}}
      ]
    },
    {
      "data": {"name": "obs"},
      "layer": [
        {"mark": {"type": "tick", "orient": "horizontal", "color": "#222", "size": 10, "thickness": 1.2},
         "encoding": {
           "x": {"field": "wl", "type": "quantitative", "scale": {"domain": [1, 1.8], "range": [60.5, 366.5], "nice": false, "zero": false},
                 "axis": {"orient": "top", "offset": -16, "values": [1.05, 1.1, 1.15, 1.25, 1.3, 1.35, 1.45, 1.5, 1.55, 1.65, 1.7, 1.75], "tickSize": -3, "labels": false, "title": null, "zindex": 1}},
           "y": {"field": "lo", "type": "quantitative", "scale": {"domain": [0, 0.002], "range": [199, 16], "nice": false, "zero": false},
                 "axis": {"orient": "right", "offset": -358.5, "values": [0.0001, 0.0002, 0.0003, 0.0004, 0.0006, 0.0007, 0.0008, 0.0009, 0.0011, 0.0012, 0.0013, 0.0014, 0.0016, 0.0017, 0.0018, 0.0019], "tickSize": -3.5, "labels": false, "title": null, "zindex": 1}}}},
        {"mark": {"type": "tick", "orient": "horizontal", "color": "#222", "size": 10, "thickness": 1.2},
         "encoding": {
           "x": {"field": "wl", "type": "quantitative", "scale": {"domain": [1, 1.8], "range": [60.5, 366.5], "nice": false, "zero": false},
                 "axis": {"orient": "top", "offset": -16, "values": [1.05, 1.1, 1.15, 1.25, 1.3, 1.35, 1.45, 1.5, 1.55, 1.65, 1.7, 1.75], "tickSize": -3, "labels": false, "title": null, "zindex": 1}},
           "y": {"field": "hi", "type": "quantitative", "scale": {"domain": [0, 0.002], "range": [199, 16], "nice": false, "zero": false},
                 "axis": {"orient": "right", "offset": -358.5, "values": [0.0001, 0.0002, 0.0003, 0.0004, 0.0006, 0.0007, 0.0008, 0.0009, 0.0011, 0.0012, 0.0013, 0.0014, 0.0016, 0.0017, 0.0018, 0.0019], "tickSize": -3.5, "labels": false, "title": null, "zindex": 1}}}}
      ]
    }
  ]
}
